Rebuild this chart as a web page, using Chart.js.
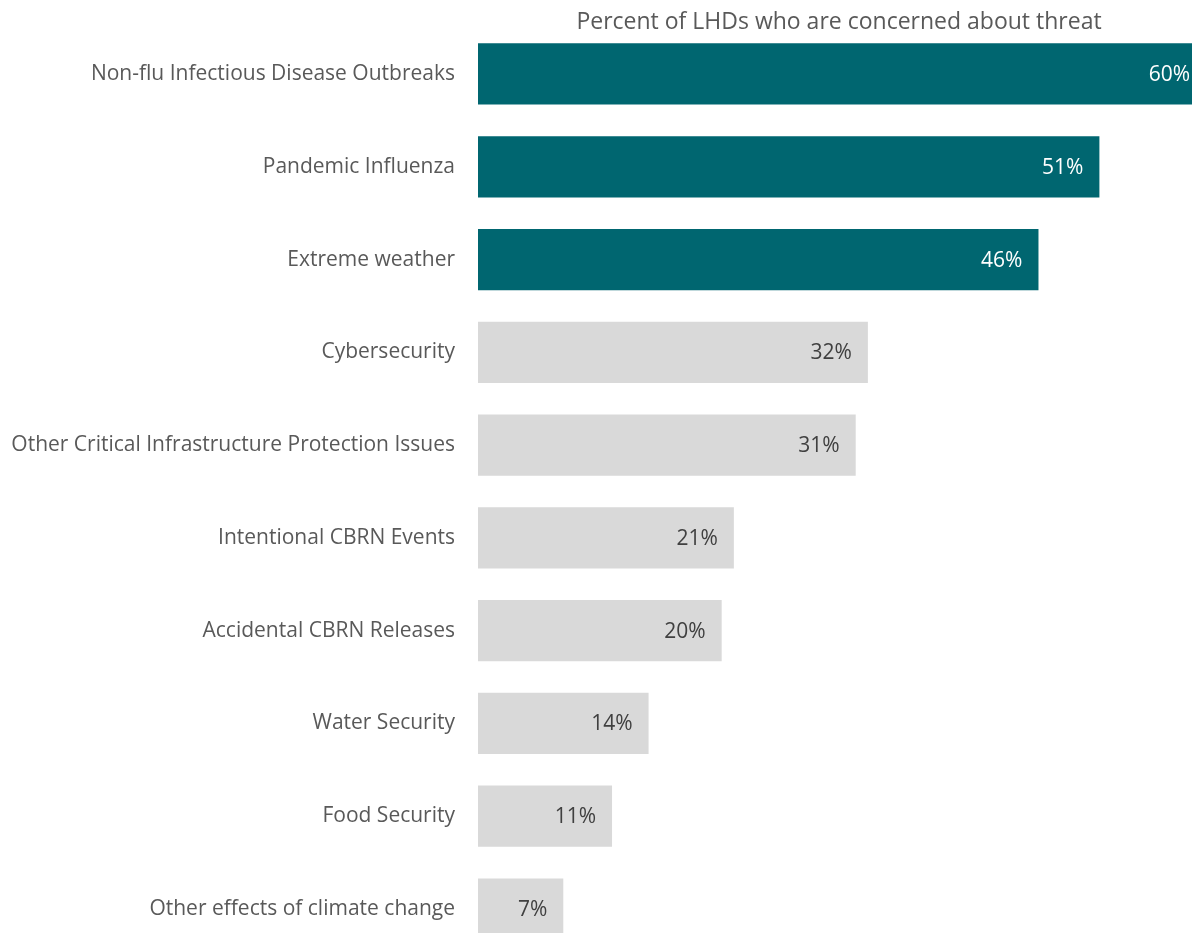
<!DOCTYPE html>
<html>
<head>
<meta charset="utf-8">
<script src="https://cdn.jsdelivr.net/npm/chart.js@4"></script>
<style>
  html, body { margin: 0; padding: 0; overflow: hidden; background: #fff; }
  #threatChart { display: block; margin-top: -8px; }
</style>
</head>
<body>
<canvas id="threatChart" width="1192" height="999"></canvas>
<script>
const threats = [
    'Non-flu Infectious Disease Outbreaks',
    'Pandemic Influenza',
    'Extreme weather',
    'Cybersecurity',
    'Other Critical Infrastructure Protection Issues',
    'Intentional CBRN Events',
    'Accidental CBRN Releases',
    'Water Security',
    'Food Security',
    'Other effects of climate change'
];
const percentConcerned = [60, 51, 46, 32, 31, 21, 20, 14, 11, 7];
const chartTitle = 'Percent of LHDs who are concerned about threat';

const TEAL = '#006670';
const GREY = '#d9d9d9';
const FONT = '"Open Sans", sans-serif';

// top three threats are highlighted
const barColors = percentConcerned.map((v, i) => i < 3 ? TEAL : GREY);
const labelColors = percentConcerned.map((v, i) => i < 3 ? '#ffffff' : '#404040');

// values drawn inside the end of each bar
const valueLabels = {
    id: 'valueLabels',
    afterDatasetsDraw(chart) {
        const ctx = chart.ctx;
        const meta = chart.getDatasetMeta(0);
        const area = chart.chartArea;
        ctx.save();
        ctx.font = '21px ' + FONT;
        ctx.textAlign = 'right';
        ctx.textBaseline = 'middle';
        meta.data.forEach((bar, i) => {
            const end = Math.min(bar.x, area.right + 14);
            ctx.fillStyle = labelColors[i];
            ctx.fillText(percentConcerned[i] + '%', end - 16, bar.y + 1);
        });
        ctx.restore();
    }
};

const topTitle = {
    id: 'topTitle',
    afterDraw(chart) {
        const ctx = chart.ctx;
        const area = chart.chartArea;
        ctx.save();
        ctx.font = '23px ' + FONT;
        ctx.fillStyle = '#595959';
        ctx.textAlign = 'center';
        ctx.textBaseline = 'alphabetic';
        ctx.fillText(chartTitle, (area.left + area.right) / 2 + 4, 37);
        ctx.restore();
    }
};

const ctx = document.getElementById('threatChart');

new Chart(ctx, {
    type: 'bar',
    data: {
        labels: threats,
        datasets: [{
            data: percentConcerned,
            backgroundColor: barColors,
            borderWidth: 0,
            barPercentage: 0.66,
            categoryPercentage: 1
        }]
    },
    options: {
        indexAxis: 'y',
        responsive: false,
        animation: false,
        layout: { padding: { top: 21, right: 0, bottom: 0, left: 0 } },
        plugins: {
            legend: { display: false },
            tooltip: { enabled: false }
        },
        scales: {
            x: {
                display: false,
                min: 0,
                max: 58.6
            },
            y: {
                grid: { display: false, drawTicks: false },
                border: { display: false },
                ticks: {
                    color: '#595959',
                    font: { family: FONT, size: 21 },
                    padding: 23
                },
                afterFit(scale) { scale.width = 478; }
            }
        }
    },
    plugins: [valueLabels, topTitle]
});
</script>
</body>
</html>
